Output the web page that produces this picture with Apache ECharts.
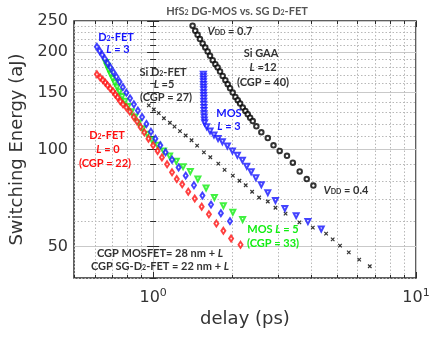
<!DOCTYPE html>
<html>
<head>
<meta charset="utf-8">
<script src="https://cdn.jsdelivr.net/npm/echarts@6/dist/echarts.min.js"></script>
<style>
  html, body { margin: 0; padding: 0; background: #fff; }
  #main { width: 433px; height: 337px; }
</style>
</head>
<body>
<div id="main"></div>
<script>
// D2-FET L = 0 (red diamonds)
var redX = [0.611, 0.629, 0.644, 0.658, 0.671, 0.687, 0.704, 0.718, 0.733, 0.750, 0.768, 0.791, 0.815, 0.844, 0.869, 0.895, 0.925, 0.96, 1.00, 1.04, 1.08, 1.13, 1.18, 1.23, 1.29, 1.36, 1.44, 1.53, 1.63, 1.74, 1.85, 1.98, 2.15];
var redY = [171, 167, 164, 161, 158, 154.5, 151.5, 148, 145, 141, 138, 135, 131, 126, 122, 117.5, 113, 108, 103, 99, 94.5, 90, 85, 81, 78, 74, 70.5, 66.5, 63, 59, 56, 53, 50.7];
// D2-FET L = 3 (blue diamonds)
var blueX = [0.611, 0.626, 0.640, 0.655, 0.671, 0.688, 0.706, 0.725, 0.745, 0.767, 0.791, 0.817, 0.845, 0.875, 0.908, 0.943, 0.981, 1.02, 1.065, 1.115, 1.18, 1.25, 1.33, 1.43, 1.54, 1.66, 1.81, 1.96];
var blueY = [208, 202, 196.5, 191, 185, 179.5, 173.5, 168, 162, 156, 150, 144, 138, 132, 126, 120, 113.5, 108, 103, 98, 93, 88, 83, 77.5, 72, 67.5, 63.5, 60];
// MOS L = 5 (green triangles)
var greenX = [0.660, 0.669, 0.679, 0.690, 0.702, 0.715, 0.729, 0.745, 0.762, 0.781, 0.802, 0.826, 0.852, 0.881, 0.913, 0.95, 0.99, 1.04, 1.095, 1.155, 1.225, 1.30, 1.385, 1.48, 1.59, 1.71, 1.85, 2.01, 2.19];
var greenY = [186, 181, 176, 171, 166, 161, 156, 151, 146, 141, 136, 131, 126, 121, 116, 111.5, 107, 103, 99, 95.5, 92, 88.5, 85.5, 81, 76, 71, 67, 63.9, 60.7];
// MOS L = 3 (blue triangles)
var mosX = [1.553, 1.553, 1.554, 1.554, 1.555, 1.555, 1.556, 1.556, 1.557, 1.558, 1.558, 1.559, 1.56, 1.561, 1.562, 1.564, 1.566, 1.570, 1.598, 1.646, 1.704, 1.766, 1.834, 1.916, 2.003, 2.092, 2.186, 2.27, 2.36, 2.46, 2.58, 2.73, 2.92, 3.17, 3.5, 3.88, 4.36];
var mosY = [171, 168, 165, 162, 159, 156, 153, 150, 147, 144, 141, 138, 135, 132, 129, 126, 123.5, 121, 117.7, 114, 110.9, 108.2, 105.7, 102.5, 98.9, 95.9, 92.7, 88.8, 85.3, 81.7, 77.8, 73.5, 69.5, 65.7, 62.4, 59.8, 56.7];
// Si D2-FET L = 5 (black crosses)
var siX = [0.963, 1.006, 1.05, 1.099, 1.158, 1.206, 1.265, 1.33, 1.40, 1.47, 1.56, 1.65, 1.77, 1.87, 2.01, 2.13, 2.25, 2.38, 2.53, 2.73, 2.92, 3.19, 3.6, 4.05, 4.55, 4.82, 5.14, 5.55, 6.08, 6.67];
var siY = [137, 133, 129.6, 125, 121, 117.7, 114, 110.5, 106.8, 102.8, 98, 94.6, 90.4, 86.5, 83, 80, 77.5, 74, 71, 69, 66, 63.3, 59.5, 57.3, 54.9, 52.7, 50.4, 48, 45.6, 43.5];
// Si GAA L = 12 (black circles)
var gaaX = [1.413, 1.446, 1.476, 1.507, 1.543, 1.579, 1.612, 1.646, 1.685, 1.725, 1.760, 1.797, 1.839, 1.883, 1.922, 1.962, 2.008, 2.056, 2.099, 2.142, 2.193, 2.244, 2.291, 2.339, 2.393, 2.47, 2.58, 2.73, 2.87, 3.03, 3.23, 3.40, 3.61, 3.84, 4.07];
var gaaY = [241.7, 233.2, 226.6, 219.8, 213, 207, 201.2, 195, 189, 183.7, 179.5, 174.4, 169, 163.9, 159.3, 154.8, 150.1, 145.4, 142, 138.8, 134.8, 131.6, 128.5, 125.5, 122.5, 118, 113, 108.5, 103, 99, 95.6, 91, 85.5, 81, 77.3];

var xMajor = [1, 10];
var xMinor = [0.5, 0.6, 0.7, 0.8, 0.9, 2, 3, 4, 5, 6, 7, 8, 9];
var yMajor = [50, 100, 150, 200, 250];
var yMinor = [40, 60, 70, 80, 90, 110, 120, 130, 140, 160, 170, 180, 190, 210, 220, 230, 240];

var lg = Math.log10;
function pairs(xs, ys) {
  return xs.map(function (x, i) { return [lg(x), lg(ys[i])]; });
}

var FONT = 'DejaVu Sans';
var NOTE = 'Lato';
var frame = '#2b2b2b';

function rich(color) {
  return {
    i: { fontStyle: 'italic', fontWeight: 'bold', fontSize: 11, fontFamily: NOTE, fill: color },
    s: { fontWeight: 'bold', fontSize: 7, fontFamily: NOTE, fill: color, verticalAlign: 'bottom' }
  };
}
function note(x, y, text, color) {
  return {
    type: 'text', x: x, y: y, z: 100,
    style: {
      text: text, fill: color, fontSize: 11, fontWeight: 'bold', fontFamily: NOTE,
      align: 'center', verticalAlign: 'middle', rich: rich(color)
    }
  };
}

var xr = { min: lg(0.5), max: 1 };
var yr = { min: lg(40), max: lg(250) };

function xAxis(pos, ticks, len, split, label) {
  return {
    type: 'value', position: pos, min: xr.min, max: xr.max,
    axisLine: { show: false },
    axisTick: { inside: true, length: len, customValues: ticks.map(lg), lineStyle: { color: frame, width: 1 } },
    axisLabel: label || { show: false },
    splitLine: split || { show: false }
  };
}
function yAxis(pos, ticks, len, split, label) {
  return {
    type: 'value', position: pos, min: yr.min, max: yr.max,
    axisLine: { show: false },
    axisTick: { inside: true, length: len, customValues: ticks.map(lg), lineStyle: { color: frame, width: 1 } },
    axisLabel: label || { show: false },
    splitLine: split || { show: false }
  };
}

var solid = { show: true, lineStyle: { color: '#c9c9c9', width: 1 } };
var dotted = { show: true, lineStyle: { color: '#b8b8b8', width: 1, type: [1.5, 2] } };

var chart = echarts.init(document.getElementById('main'), null, { renderer: 'canvas' });

var option = {
  backgroundColor: '#fff',
  animation: false,
  grid: {
    left: 74, right: 17, top: 21, bottom: 59,
    show: true, borderColor: frame, borderWidth: 1.5, backgroundColor: 'transparent'
  },
  xAxis: [
    Object.assign(xAxis('bottom', xMajor, 6, solid, {
      show: true, margin: 10, customValues: xMajor.map(lg),
      formatter: function (v) { return '{b|10}{s|' + Math.round(v) + '}'; },
      rich: {
        b: { fontSize: 16, fontFamily: FONT, color: '#333' },
        s: { fontSize: 11, fontFamily: FONT, color: '#333', verticalAlign: 'top', padding: [0, 0, 8, 0] }
      }
    }), {
      name: 'delay (ps)', nameLocation: 'middle', nameGap: 32,
      nameTextStyle: { fontSize: 18, fontFamily: FONT, color: '#333' }
    }),
    xAxis('bottom', xMinor, 3, dotted),
    xAxis('top', xMajor, 6),
    xAxis('top', xMinor, 3)
  ],
  yAxis: [
    Object.assign(yAxis('left', yMajor, 6, solid, {
      show: true, margin: 6, customValues: yMajor.map(lg),
      fontSize: 16, fontFamily: FONT, color: '#333',
      formatter: function (v) { return Math.round(Math.pow(10, v)); }
    }), {
      name: 'Switching Energy (aJ)', nameLocation: 'middle', nameGap: 40,
      nameTextStyle: { fontSize: 18, fontFamily: FONT, color: '#333' }
    }),
    yAxis('left', yMinor, 3, dotted),
    yAxis('right', yMajor, 6),
    yAxis('right', yMinor, 3)
  ],
  series: [
    {
      name: 'Si GAA', type: 'scatter', data: pairs(gaaX, gaaY),
      symbol: 'emptyCircle', symbolSize: 4.5,
      itemStyle: { color: '#000', borderWidth: 1.1 }
    },
    {
      name: 'Si D2-FET', type: 'scatter', data: pairs(siX, siY),
      symbol: 'path://M0,0L10,10M10,0L0,10', symbolSize: 3.5,
      itemStyle: { color: 'transparent', borderColor: '#000', borderWidth: 1.2 }
    },
    {
      name: 'MOS L=3', type: 'scatter', data: pairs(mosX, mosY),
      symbol: 'emptyTriangle', symbolSize: 5, symbolRotate: 180,
      itemStyle: { color: '#1414ff', borderWidth: 1.2 }
    },
    {
      name: 'MOS L=5', type: 'scatter', data: pairs(greenX, greenY),
      symbol: 'emptyTriangle', symbolSize: 5, symbolRotate: 180,
      itemStyle: { color: '#12ee12', borderWidth: 1.2 }
    },
    {
      name: 'D2-FET L=3', type: 'scatter', data: pairs(blueX, blueY),
      symbol: 'emptyDiamond', symbolSize: [4, 6],
      itemStyle: { color: '#1414ff', borderWidth: 1.2 }
    },
    {
      name: 'D2-FET L=0', type: 'scatter', data: pairs(redX, redY),
      symbol: 'emptyDiamond', symbolSize: [4, 6],
      itemStyle: { color: '#ff1010', borderWidth: 1.2 }
    }
  ],
  graphic: [
    note(237, 11, 'HfS{s|2} DG-MOS vs. SG D{s|2}-FET', '#555'),
    note(230, 31, '{i|V}{s|DD} = 0.7', '#333'),
    note(261, 53, 'Si GAA', '#333'),
    note(263, 67, '{i|L} =12', '#333'),
    note(263, 82, '(CGP = 40)', '#333'),
    note(116, 37, 'D{s|2}-FET', '#1414ff'),
    note(118, 49, '{i|L} = 3', '#1414ff'),
    note(163, 72, 'Si D{s|2}-FET', '#333'),
    note(164, 84, '{i|L} =5', '#333'),
    note(166, 97, '(CGP = 27)', '#333'),
    note(229, 113, 'MOS', '#1414ff'),
    note(229, 126, '{i|L} = 3', '#1414ff'),
    note(107, 135, 'D{s|2}-FET', '#ff1010'),
    note(108, 149, '{i|L} = 0', '#ff1010'),
    note(105, 163, '(CGP = 22)', '#ff1010'),
    note(346, 190, '{i|V}{s|DD} = 0.4', '#333'),
    note(273, 229, 'MOS {i|L} = 5', '#12ee12'),
    note(273, 243, '(CGP = 33)', '#12ee12'),
    note(160, 253, 'CGP MOSFET= 28 nm + {i|L}', '#333'),
    note(160, 266, 'CGP SG-D{s|2}-FET = 22 nm + {i|L}', '#333')
  ]
};

chart.setOption(option);
</script>
</body>
</html>
